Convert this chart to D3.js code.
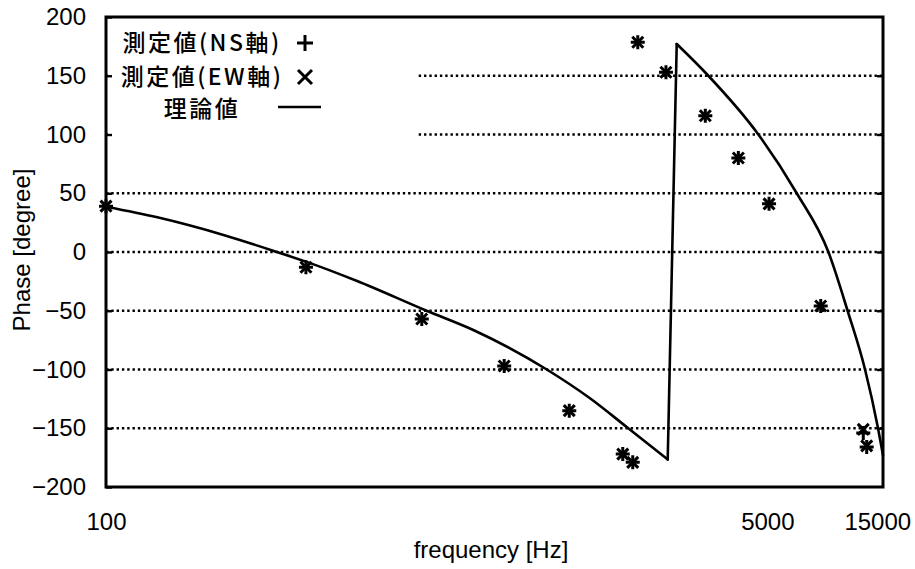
<!DOCTYPE html>
<html>
<head>
<meta charset="utf-8">
<script src="https://cdn.jsdelivr.net/npm/d3@7"></script>
<style>
  body { margin: 0; background: #fff; }
  svg { display: block; }
  .tick text { font-family: "Liberation Sans", Arial, sans-serif; font-size: 24px; fill: #000; }
</style>
</head>
<body>
<script>
// measured points (same frequencies for both axes)
var freqMeasured = [100, 245, 448, 723, 1093, 1578, 1695, 1758, 2168, 2950, 3880, 5078, 8272, 12860, 13350];
var phaseNS = [39, -13, -57, -97, -135, -172, -179, 178.5, 153, 116, 80, 41, -46, -154, -166];
var phaseEW = [39, -13, -57, -97, -135, -172, -179, 178.5, 153, 116, 80, 41, -46, -151, -165];

// theoretical curve (wraps from -180 to +180 between 2197 and 2354 Hz)
var freqTheory = [100, 124, 166, 213, 245, 316, 460, 601, 944, 1256, 1641, 2197,
                  2354, 3023, 4616, 6557, 8933, 10880, 13108, 15128, 16000];
var phaseTheory = [38.5, 29.5, 14.5, 0, -8.2, -24.5, -50, -66.4, -100, -124.5, -150, -176.5,
                   177, 150, 100, 50, 0, -50, -100, -150, -173];
var wrapIndex = 11;

var xTickValues = [100, 5000, 15000];
var yTickValues = [-200, -150, -100, -50, 0, 50, 100, 150, 200];
var legendLabels = ["測定値(NS軸)", "測定値(EW軸)", "理論値"];

var width = 915, height = 569;
var margin = {top: 17, right: 32, bottom: 82, left: 106};

var x = d3.scalePow().exponent(-0.2)
    .domain([100, 16000])
    .range([margin.left, width - margin.right]);
var y = d3.scaleLinear()
    .domain([-200, 200])
    .range([height - margin.bottom, margin.top]);

var svg = d3.select("body").append("svg")
    .attr("width", width)
    .attr("height", height);

// dotted grid
svg.append("g")
    .selectAll("line")
    .data(yTickValues.filter(d => d > -200 && d < 200))
    .enter()
    .append("line")
    .attr("x1", margin.left)
    .attr("x2", width - margin.right)
    .attr("y1", d => y(d))
    .attr("y2", d => y(d))
    .attr("stroke", "#000")
    .attr("stroke-width", 2.4)
    .attr("stroke-dasharray", "2.4,2.9");

// legend box hides the grid behind it
svg.append("rect")
    .attr("x", margin.left + 2)
    .attr("y", margin.top + 2)
    .attr("width", 310)
    .attr("height", 150)
    .attr("fill", "#fff");

// theory line: two smooth branches joined by the wrap segment
var theory = freqTheory.map((f, i) => ({f: f, p: phaseTheory[i]}));
var smooth = d3.line().x(d => x(d.f)).y(d => y(d.p)).curve(d3.curveMonotoneX);
var straight = d3.line().x(d => x(d.f)).y(d => y(d.p));
var pieces = [
    {d: theory.slice(0, wrapIndex + 1), gen: smooth},
    {d: theory.slice(wrapIndex, wrapIndex + 2), gen: straight},
    {d: theory.slice(wrapIndex + 1), gen: smooth}
];
svg.append("g")
    .selectAll("path")
    .data(pieces)
    .enter()
    .append("path")
    .attr("d", p => p.gen(p.d))
    .attr("fill", "none")
    .attr("stroke", "#000")
    .attr("stroke-width", 2.6)
    .attr("stroke-linejoin", "round")
    .attr("stroke-linecap", "round");

var plusPath = "M-7,0H7M0,-7V7";
var crossPath = "M-5.5,-5.5L5.5,5.5M-5.5,5.5L5.5,-5.5";

svg.append("g")
    .selectAll("path")
    .data(phaseNS)
    .enter()
    .append("path")
    .attr("d", plusPath)
    .attr("transform", (d, i) => "translate(" + x(freqMeasured[i]) + "," + y(d) + ")")
    .attr("stroke", "#000")
    .attr("stroke-width", 3);

svg.append("g")
    .selectAll("path")
    .data(phaseEW)
    .enter()
    .append("path")
    .attr("d", crossPath)
    .attr("transform", (d, i) => "translate(" + x(freqMeasured[i]) + "," + y(d) + ")")
    .attr("stroke", "#000")
    .attr("stroke-width", 3);

// axes
var yAxis = svg.append("g")
    .attr("transform", "translate(" + margin.left + ",0)")
    .call(d3.axisLeft(y).tickValues(yTickValues).tickSize(-6).tickSizeOuter(0).tickPadding(20));
yAxis.select(".domain").remove();
yAxis.selectAll(".tick line").attr("stroke-width", 2.4);

var yAxisR = svg.append("g")
    .attr("transform", "translate(" + (width - margin.right) + ",0)")
    .call(d3.axisRight(y).tickValues(yTickValues.slice(1, -1)).tickSize(-6).tickSizeOuter(0).tickFormat(""));
yAxisR.select(".domain").remove();
yAxisR.selectAll(".tick line").attr("stroke-width", 2.4);

var xAxis = svg.append("g")
    .attr("transform", "translate(0," + (height - margin.bottom) + ")")
    .call(d3.axisBottom(x).tickValues(xTickValues).tickFormat(d3.format("d")).tickSize(0).tickPadding(26));
xAxis.select(".domain").remove();

// frame
svg.append("rect")
    .attr("x", margin.left)
    .attr("y", margin.top)
    .attr("width", width - margin.left - margin.right)
    .attr("height", height - margin.top - margin.bottom)
    .attr("fill", "none")
    .attr("stroke", "#000")
    .attr("stroke-width", 3);

// axis titles
svg.append("text")
    .text("frequency [Hz]")
    .attr("x", 491)
    .attr("y", 558)
    .attr("text-anchor", "middle")
    .attr("font-family", "Liberation Sans, Arial, sans-serif")
    .attr("font-size", 24);

svg.append("text")
    .text("Phase [degree]")
    .attr("transform", "translate(30,250) rotate(-90)")
    .attr("text-anchor", "middle")
    .attr("font-family", "Liberation Sans, Arial, sans-serif")
    .attr("font-size", 24);

// legend
var legendRows = [43, 77, 109];
var legend = svg.append("g");
legend.selectAll("text")
    .data(legendLabels)
    .enter()
    .append("text")
    .text(d => d)
    .attr("x", 202)
    .attr("y", (d, i) => legendRows[i] + 8)
    .attr("text-anchor", "middle")
    .attr("font-family", "Noto Sans CJK JP, sans-serif")
    .attr("font-size", 23)
    .attr("font-weight", 500)
    .attr("letter-spacing", 2.5);

legend.append("path")
    .attr("d", "M-8,0H8M0,-8V8")
    .attr("transform", "translate(305," + legendRows[0] + ")")
    .attr("stroke", "#000")
    .attr("stroke-width", 3);
legend.append("path")
    .attr("d", "M-7,-7L7,7M-7,7L7,-7")
    .attr("transform", "translate(305," + legendRows[1] + ")")
    .attr("stroke", "#000")
    .attr("stroke-width", 3);
legend.append("line")
    .attr("x1", 278)
    .attr("x2", 321)
    .attr("y1", legendRows[2] - 2)
    .attr("y2", legendRows[2] - 2)
    .attr("stroke", "#000")
    .attr("stroke-width", 2.6);
</script>
</body>
</html>
